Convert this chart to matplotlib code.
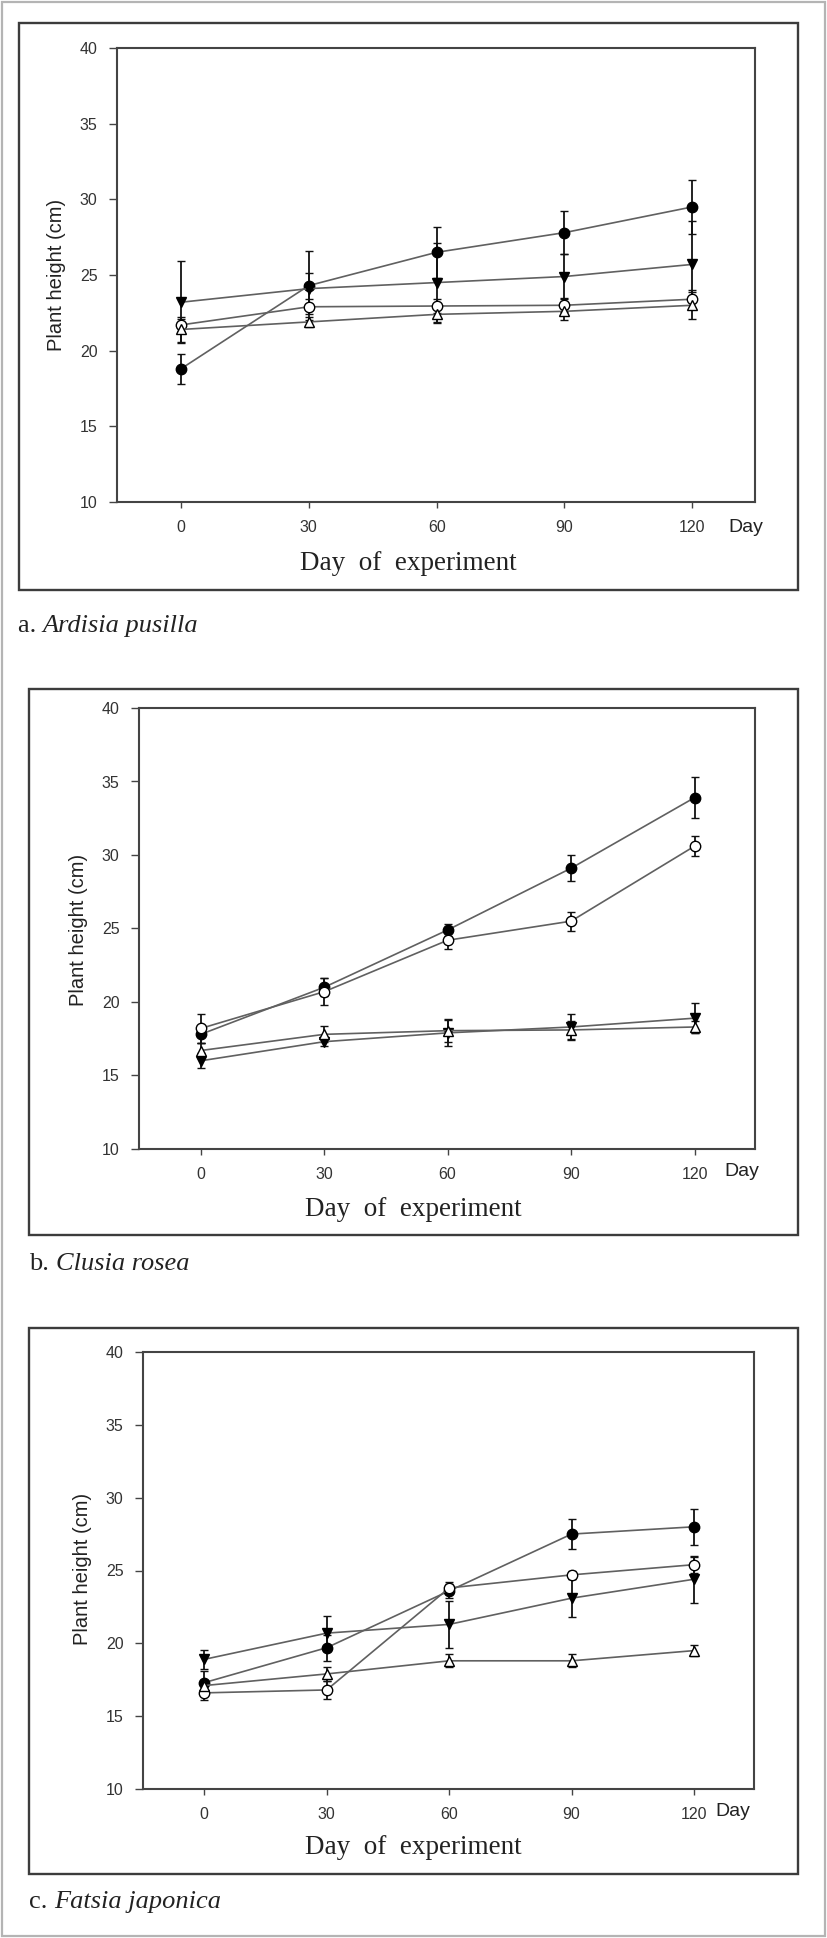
import matplotlib
matplotlib.use("Agg")
import matplotlib.pyplot as plt
from matplotlib.patches import Rectangle

# figure size in pixels (saved at dpi=100)
W, H = 827, 1938

days = [0, 30, 60, 90, 120]
yticks = [10, 15, 20, 25, 30, 35, 40]

# a. Ardisia pusilla
a_fc = [18.8, 24.3, 26.5, 27.8, 29.5]      # filled circle
a_fc_err = [1.0, 2.3, 1.7, 1.4, 1.8]
a_oc = [21.7, 22.9, 22.95, 23.0, 23.4]     # open circle
a_oc_err = [0.4, 0.5, 0.45, 0.45, 0.6]
a_ft = [23.2, 24.1, 24.5, 24.9, 25.7]      # filled down triangle
a_ft_err = [2.7, 1.0, 2.6, 1.5, 2.9]
a_ot = [21.4, 21.9, 22.4, 22.6, 23.0]      # open up triangle
a_ot_err = [0.8, 0.35, 0.6, 0.6, 0.9]

# b. Clusia rosea
b_fc = [17.8, 21.0, 24.9, 29.1, 33.9]
b_fc_err = [0.6, 0.6, 0.4, 0.9, 1.4]
b_oc = [18.2, 20.7, 24.2, 25.5, 30.6]
b_oc_err = [1.0, 0.9, 0.6, 0.65, 0.7]
b_ft = [16.0, 17.3, 17.9, 18.3, 18.9]
b_ft_err = [0.5, 0.3, 0.9, 0.9, 1.0]
b_ot = [16.7, 17.8, 18.05, 18.1, 18.3]
b_ot_err = [0.5, 0.55, 0.8, 0.6, 0.4]

# c. Fatsia japonica
c_fc = [17.3, 19.7, 23.6, 27.5, 28.0]
c_fc_err = [0.8, 0.9, 0.5, 1.05, 1.25]
c_oc = [16.6, 16.8, 23.8, 24.7, 25.4]
c_oc_err = [0.5, 0.6, 0.4, 0.3, 0.55]
c_ft = [18.9, 20.7, 21.3, 23.1, 24.4]
c_ft_err = [0.65, 1.2, 1.6, 1.3, 1.6]
c_ot = [17.1, 17.9, 18.8, 18.8, 19.5]
c_ot_err = [0.4, 0.5, 0.45, 0.45, 0.4]

captions = [("a. ", "Ardisia pusilla"), ("b. ", "Clusia rosea"), ("c. ", "Fatsia japonica")]

# layout in pixels: frame box, axes box, caption, labels
panels = [
    dict(data=[(a_fc, a_fc_err), (a_oc, a_oc_err), (a_ft, a_ft_err), (a_ot, a_ot_err)],
         box=(19, 23, 798, 590), ax=(117, 48, 755, 502),
         ylab=(57, 275), xlab=(408, 563), day=(746, 527), cap=(18, 626)),
    dict(data=[(b_fc, b_fc_err), (b_oc, b_oc_err), (b_ft, b_ft_err), (b_ot, b_ot_err)],
         box=(29, 689, 798, 1235), ax=(139, 708, 755, 1149),
         ylab=(79, 930), xlab=(413, 1209), day=(742, 1172), cap=(29, 1264)),
    dict(data=[(c_fc, c_fc_err), (c_oc, c_oc_err), (c_ft, c_ft_err), (c_ot, c_ot_err)],
         box=(29, 1328, 798, 1874), ax=(143, 1352, 754, 1789),
         ylab=(83, 1569), xlab=(413, 1847), day=(733, 1811), cap=(29, 1902)),
]

# marker styles: filled circle, open circle, filled down triangle, open up triangle
styles = [("o", "black", 7.5), ("o", "white", 7.5), ("v", "black", 7), ("^", "white", 7)]

sans = "Liberation Sans"
serif = "Liberation Serif"

fig = plt.figure(figsize=(W / 100, H / 100), dpi=100)


def px_rect(l, t, r, b):
    return [l / W, 1 - b / H, (r - l) / W, (b - t) / H]


# outer light frame
fig.add_artist(Rectangle((2 / W, 2 / H), (W - 4) / W, (H - 4) / H,
                         transform=fig.transFigure, fill=False, ec="#b4b4b4", lw=1.6))

for p, (pre, species) in zip(panels, captions):
    l, t, r, b = p["box"]
    x0, y0, w, h = px_rect(l, t, r, b)
    fig.add_artist(Rectangle((x0, y0), w, h, transform=fig.transFigure,
                             fill=False, ec="#3c3c3c", lw=1.7))

    ax = fig.add_axes(px_rect(*p["ax"]))
    for (vals, err), (mk, fc, ms) in zip(p["data"], styles):
        ax.errorbar(days, vals, yerr=err, fmt="-" + mk, color="#606060", lw=1.2,
                    ecolor="#111111", elinewidth=1.3, capsize=3.2, capthick=1.3,
                    mfc=fc, mec="black", mew=1.0, ms=ms)

    ax.set_xlim(-15, 134.7)
    ax.set_ylim(10, 40)
    ax.set_xticks(days)
    ax.set_yticks(yticks)
    ax.tick_params(axis="y", direction="out", length=6, width=1, pad=8,
                   labelsize=11.5, labelcolor="#333333", color="#444444")
    ax.tick_params(axis="x", direction="out", length=4, width=1, pad=9,
                   labelsize=11.5, labelcolor="#333333", color="#444444")
    for lab in ax.get_xticklabels() + ax.get_yticklabels():
        lab.set_family(sans)
    for s in ax.spines.values():
        s.set_color("#444444")
        s.set_linewidth(1.5)

    # labels
    fig.text(p["ylab"][0] / W, 1 - p["ylab"][1] / H, "Plant height (cm)", rotation=90,
             ha="center", va="center", fontsize=14.5, family=sans, color="#222222")
    fig.text(p["xlab"][0] / W, 1 - p["xlab"][1] / H, "Day  of  experiment",
             ha="center", va="center", fontsize=19.5, family=serif, color="#222222")
    fig.text(p["day"][0] / W, 1 - p["day"][1] / H, "Day",
             ha="center", va="center", fontsize=14, family=sans, color="#222222")
    cx, cy = p["cap"]
    t1 = fig.text(cx / W, 1 - cy / H, pre, ha="left", va="center",
                  fontsize=19, family=serif, color="#222222")
    fig.canvas.draw()
    bb = t1.get_window_extent()
    fig.text(bb.x1 / W, 1 - cy / H, species, ha="left", va="center",
             fontsize=19, family=serif, style="italic", color="#222222")

fig.savefig("out.png", dpi=100, facecolor="white")
